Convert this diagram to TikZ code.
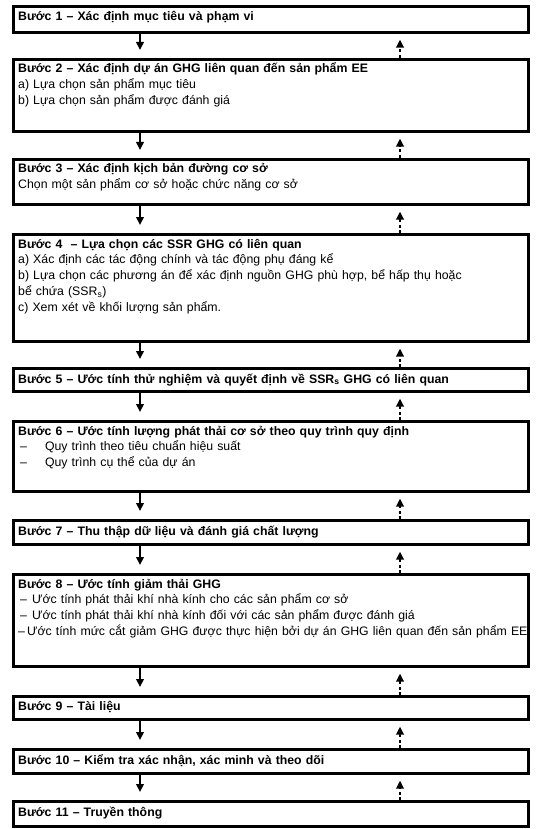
\documentclass[tikz,border=0pt]{standalone}
\usepackage{fontspec}
\setmainfont{Liberation Sans}
\usetikzlibrary{arrows.meta,calc,positioning}
\tikzset{
  stepbox/.style={draw=black, line width=2.6pt, minimum width=515pt, inner sep=0pt, anchor=north west},
  steptext/.style={anchor=base west, inner sep=0pt, align=left, text width=518pt,
                   font=\fontsize{12.3}{15.8}\selectfont},
  fwd/.style={line width=2pt, -{Triangle[length=8pt,width=7.5pt]}},
  back/.style={line width=2.6pt, dash pattern=on 3pt off 2.5pt, -{Triangle[length=8pt,width=7.5pt]}},
}
\begin{document}
\begin{tikzpicture}[x=1pt,y=-1pt]
  \useasboundingbox (0,0) rectangle (541,829);
  \coordinate (dnx) at (140,0);
  \coordinate (upx) at (400,0);
  % step boxes
  \node[stepbox, minimum height=26pt]  (s1)  at (12,5)   {};
  \node[stepbox, minimum height=72pt]  (s2)  at (12,58)  {};
  \node[stepbox, minimum height=45pt]  (s3)  at (12,158) {};
  \node[stepbox, minimum height=107pt] (s4)  at (12,233) {};
  \node[stepbox, minimum height=23pt]  (s5)  at (12,367) {};
  \node[stepbox, minimum height=70pt]  (s6)  at (12,420) {};
  \node[stepbox, minimum height=24pt]  (s7)  at (12,519) {};
  \node[stepbox, minimum height=92pt]  (s8)  at (12,573) {};
  \node[stepbox, minimum height=23pt]  (s9)  at (12,695) {};
  \node[stepbox, minimum height=24pt]  (s10) at (12,748) {};
  \node[stepbox, minimum height=25pt]  (s11) at (12,800) {};
  % texts
  \node[steptext] (t1) at ([xshift=6pt,yshift=-16pt]s1.north west)
    {\textbf{Bước 1 – Xác định mục tiêu và phạm vi}};
  \node[steptext] (t2) at ([xshift=6pt,yshift=-15pt]s2.north west)
    {\textbf{Bước 2 – Xác định dự án GHG liên quan đến sản phẩm EE}\\
     a) Lựa chọn sản phẩm mục tiêu\\
     b) Lựa chọn sản phẩm được đánh giá};
  \node[steptext] (t3) at ([xshift=6pt,yshift=-15pt]s3.north west)
    {\textbf{Bước 3 – Xác định kịch bản đường cơ sở}\\
     Chọn một sản phẩm cơ sở hoặc chức năng cơ sở};
  \node[steptext] (t4) at ([xshift=6pt,yshift=-15pt]s4.north west)
    {\textbf{Bước 4 \ – Lựa chọn các SSR GHG có liên quan}\\
     a) Xác định các tác động chính và tác động phụ đáng kể\\
     b) Lựa chọn các phương án để xác định nguồn GHG phù hợp, bể hấp thụ hoặc\\
     bể chứa (SSR\textsubscript{s})\\
     c) Xem xét về khối lượng sản phẩm.};
  \node[steptext] (t5) at ([xshift=6pt,yshift=-16pt]s5.north west)
    {\textbf{Bước 5 – Ước tính thử nghiệm và quyết định về SSR\textsubscript{s} GHG có liên quan}};
  \node[steptext] (t6) at ([xshift=6pt,yshift=-15pt]s6.north west)
    {\textbf{Bước 6 – Ước tính lượng phát thải cơ sở theo quy trình quy định}\\
     \hspace*{2pt}–\hspace{18pt}Quy trình theo tiêu chuẩn hiệu suất\\
     \hspace*{2pt}–\hspace{18pt}Quy trình cụ thể của dự án};
  \node[steptext] (t7) at ([xshift=6pt,yshift=-16pt]s7.north west)
    {\textbf{Bước 7 – Thu thập dữ liệu và đánh giá chất lượng}};
  \node[steptext] (t8) at ([xshift=6pt,yshift=-15pt]s8.north west)
    {\textbf{Bước 8 – Ước tính giảm thải GHG}\\
     \hspace*{2pt}–\hspace{5pt}Ước tính phát thải khí nhà kính cho các sản phẩm cơ sở\\
     \hspace*{2pt}–\hspace{5pt}Ước tính phát thải khí nhà kính đối với các sản phẩm được đánh giá\\
     –\,Ước tính mức cắt giảm GHG được thực hiện bởi dự án GHG liên quan đến sản phẩm EE};
  \node[steptext] (t9) at ([xshift=6pt,yshift=-15pt]s9.north west)
    {\textbf{Bước 9 – Tài liệu}};
  \node[steptext] (t10) at ([xshift=6pt,yshift=-16pt]s10.north west)
    {\textbf{Bước 10 – Kiểm tra xác nhận, xác minh và theo dõi}};
  \node[steptext] (t11) at ([xshift=6pt,yshift=-16pt]s11.north west)
    {\textbf{Bước 11 – Truyền thông}};
  % forward arrows
  \draw[fwd] (s1.south -| dnx) -- ($(s2.north -| dnx)+(0,-8)$);
  \draw[fwd] (s2.south -| dnx) -- ($(s3.north -| dnx)+(0,-8)$);
  \draw[fwd] (s3.south -| dnx) -- ($(s4.north -| dnx)+(0,-8)$);
  \draw[fwd] (s4.south -| dnx) -- ($(s5.north -| dnx)+(0,-8)$);
  \draw[fwd] (s5.south -| dnx) -- ($(s6.north -| dnx)+(0,-8)$);
  \draw[fwd] (s6.south -| dnx) -- ($(s7.north -| dnx)+(0,-8)$);
  \draw[fwd] (s7.south -| dnx) -- ($(s8.north -| dnx)+(0,-8)$);
  \draw[fwd] (s8.south -| dnx) -- ($(s9.north -| dnx)+(0,-8)$);
  \draw[fwd] (s9.south -| dnx) -- ($(s10.north -| dnx)+(0,-8)$);
  \draw[fwd] (s10.south -| dnx) -- ($(s11.north -| dnx)+(0,-8)$);
  % feedback arrows
  \draw[back] (s2.north -| upx) -- ($(s1.south -| upx)+(0,6)$);
  \draw[back] (s3.north -| upx) -- ($(s2.south -| upx)+(0,6)$);
  \draw[back] (s4.north -| upx) -- ($(s3.south -| upx)+(0,6)$);
  \draw[back] (s5.north -| upx) -- ($(s4.south -| upx)+(0,6)$);
  \draw[back] (s6.north -| upx) -- ($(s5.south -| upx)+(0,6)$);
  \draw[back] (s7.north -| upx) -- ($(s6.south -| upx)+(0,6)$);
  \draw[back] (s8.north -| upx) -- ($(s7.south -| upx)+(0,6)$);
  \draw[back] (s9.north -| upx) -- ($(s8.south -| upx)+(0,6)$);
  \draw[back] (s10.north -| upx) -- ($(s9.south -| upx)+(0,6)$);
  \draw[back] (s11.north -| upx) -- ($(s10.south -| upx)+(0,6)$);
\end{tikzpicture}
\end{document}
